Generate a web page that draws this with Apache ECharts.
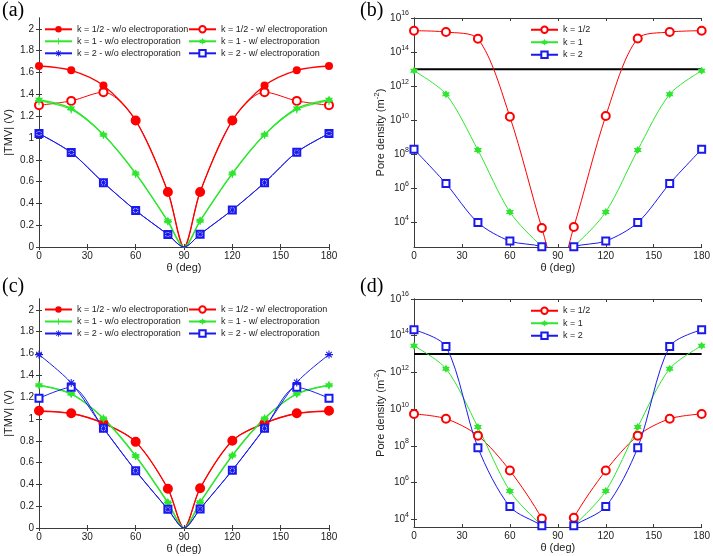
<!DOCTYPE html>
<html><head><meta charset="utf-8">
<script src="https://cdn.jsdelivr.net/npm/echarts@6/dist/echarts.min.js"></script>
<style>html,body{margin:0;padding:0;background:#fff}#c{width:713px;height:556px}</style>
</head><body><div id="c"></div>
<script>
// ---------------- data ----------------
const thetaDeg = [0, 20, 40, 60, 80, 90, 100, 120, 140, 160, 180];
const thetaTicks = [0, 30, 60, 90, 120, 150, 180];
const tmvTicks = [0, 0.2, 0.4, 0.6, 0.8, 1, 1.2, 1.4, 1.6, 1.8, 2];
const poreTicks = [1e4, 1e6, 1e8, 1e10, 1e12, 1e14, 1e16];
const poreThreshold = 1e13;

// (a) |TMV| (V)
const aHalfWo = [1.66, 1.62, 1.48, 1.16, 0.505, 0, 0.505, 1.16, 1.48, 1.62, 1.66];
const aHalfW  = [1.30, 1.34, 1.42, 1.16, 0.505, 0, 0.505, 1.16, 1.42, 1.34, 1.30];
const aOneWo  = [1.34, 1.26, 1.03, 0.67, 0.235, 0, 0.24, 0.67, 1.03, 1.26, 1.34];
const aOneW   = [1.35, 1.27, 1.03, 0.675, 0.236, 0, 0.24, 0.675, 1.03, 1.27, 1.35];
const aTwoWo  = [1.04, 0.866, 0.59, 0.335, 0.114, 0, 0.117, 0.34, 0.59, 0.87, 1.04];
const aTwoW   = [1.04, 0.866, 0.59, 0.335, 0.114, 0, 0.117, 0.34, 0.59, 0.87, 1.04];

// (b) pore density (m^-2)
const bHalf = [1.8e15, 1.5e15, 6e14, 1.6e10, 4.8e3, 10, 5.5e3, 1.8e10, 6.3e14, 1.5e15, 1.8e15];
const bOne  = [8e12, 3.4e11, 1.8e8, 4.2e4, 4e2, 1e2, 4e2, 4.2e4, 1.8e8, 3.4e11, 8e12];
const bTwo  = [2e8, 1.95e6, 1e4, 8.3e2, 3.9e2, 1e2, 3.9e2, 8.3e2, 1e4, 1.95e6, 2e8];

// (c) |TMV| (V)
const cHalfWo = [1.07, 1.05, 0.96, 0.79, 0.36, 0, 0.365, 0.80, 0.96, 1.05, 1.07];
const cHalfW  = [1.075, 1.052, 0.962, 0.79, 0.36, 0, 0.365, 0.80, 0.962, 1.052, 1.075];
const cOneWo  = [1.31, 1.23, 1.005, 0.66, 0.233, 0, 0.235, 0.665, 1.005, 1.23, 1.31];
const cOneW   = [1.31, 1.23, 1.005, 0.66, 0.233, 0, 0.235, 0.665, 1.005, 1.23, 1.31];
const cTwoWo  = [1.59, 1.33, 0.915, 0.525, 0.172, 0, 0.175, 0.53, 0.915, 1.335, 1.59];
const cTwoW   = [1.19, 1.29, 0.915, 0.525, 0.172, 0, 0.175, 0.53, 0.915, 1.29, 1.19];

// (d) pore density (m^-2)
const dHalf = [5.5e9, 3e9, 3.6e8, 4.5e6, 1.1e4, 1e2, 1.2e4, 4.5e6, 3.6e8, 3e9, 5.5e9];
const dOne  = [2.8e13, 1.6e12, 1.05e9, 3.5e5, 4.5e3, 1e3, 4.5e3, 3.5e5, 1.05e9, 1.6e12, 2.8e13];
const dTwo  = [2.1e14, 2.6e13, 8e7, 4.9e4, 4.5e3, 1e3, 4.5e3, 4.9e4, 8e7, 2.6e13, 2.1e14];

const namesTmv = ['k = 1/2 - w/o electroporation', 'k = 1 - w/o electroporation', 'k = 2 - w/o electroporation',
                  'k = 1/2 - w/ electroporation', 'k = 1 - w/ electroporation', 'k = 2 - w/ electroporation'];
const namesPore = ['k = 1/2', 'k = 1', 'k = 2'];
const panelLabels = ['(a)', '(b)', '(c)', '(d)'];

// ---------------- styling ----------------
const FONT = 'Liberation Sans';
const RED = '#ff0000', GREEN = '#2ee62e', BLUE = '#1a1aee';
const AX = '#3a3a3a', TXT = '#222';
const PLUS = 'path://M-1.3,-10L1.3,-10L1.3,10L-1.3,10ZM-10,-1.3L10,-1.3L10,1.3L-10,1.3Z';
const STAR = 'path://M-1.3,-10L1.3,-10L1.3,10L-1.3,10ZM-10,-1.3L10,-1.3L10,1.3L-10,1.3Z' +
  'M-6.08,-8.06L8.06,6.08L6.08,8.06L-8.06,-6.08ZM-8.06,6.08L6.08,-8.06L8.06,-6.08L-6.08,8.06Z';
const HEX = 'path://M0,-10L8.66,5L-8.66,5ZM0,10L-8.66,-5L8.66,-5Z';

const grids = [
  {left: 39, top: 18, width: 290, height: 229},
  {left: 414, top: 18, width: 290, height: 229},
  {left: 39, top: 299, width: 290, height: 229},
  {left: 414, top: 299, width: 290, height: 228}
];
const logMin = [Math.pow(10, 2.57), Math.pow(10, 3.58)];

const xAxes = [], yAxes = [];
grids.forEach((g, i) => {
  const common = {
    gridIndex: i, type: 'value', min: 0, max: 180, interval: 30,
    axisLine: {show: true, lineStyle: {color: AX, width: 1}},
    axisTick: {show: true, inside: true, length: 3, lineStyle: {color: AX}},
    splitLine: {show: false}
  };
  xAxes.push(Object.assign({}, common, {
    position: 'bottom',
    axisLabel: {show: true, color: TXT, fontFamily: FONT, fontSize: 10, margin: 4},
    name: 'θ (deg)', nameLocation: 'middle', nameGap: 15,
    nameTextStyle: {color: TXT, fontFamily: FONT, fontSize: 11}
  }));
  xAxes.push(Object.assign({}, common, {position: 'top', axisLabel: {show: false}}));

  const isLog = (i % 2 === 1);
  let yc;
  if (!isLog) {
    yc = {gridIndex: i, type: 'value', min: 0, max: 2.1, interval: 0.2};
  } else {
    yc = {gridIndex: i, type: 'log', logBase: 10, min: logMin[i === 1 ? 0 : 1], max: 1e16};
  }
  const tickCfg = {show: true, inside: true, length: 3, lineStyle: {color: AX},
                   customValues: isLog ? poreTicks : tmvTicks};
  const left = Object.assign({}, yc, {
    position: 'left',
    axisLine: {show: true, lineStyle: {color: AX, width: 1}},
    axisTick: tickCfg,
    splitLine: {show: false},
    nameLocation: 'middle',
    nameTextStyle: {color: TXT, fontFamily: FONT, fontSize: 11,
      rich: {s: {fontFamily: FONT, fontSize: 8, color: TXT, padding: [0, 0, 8, 0]}}}
  });
  if (!isLog) {
    left.name = '|TMV| (V)';
    left.nameGap = 25;
    left.axisLabel = {color: TXT, fontFamily: FONT, fontSize: 10, margin: 5, customValues: tmvTicks};
  } else {
    left.name = 'Pore density (m{s|-2})';
    left.nameGap = 24;
    left.axisLabel = {
      color: TXT, fontFamily: FONT, fontSize: 10, margin: 5, customValues: poreTicks,
      formatter: v => '{b|10}{s|' + Math.round(Math.log10(v)) + '}',
      rich: {b: {fontFamily: FONT, fontSize: 10, color: TXT},
             s: {fontFamily: FONT, fontSize: 7, color: TXT, padding: [0, 0, 9, 0]}}
    };
  }
  yAxes.push(left);
  const right = Object.assign({}, yc, {
    position: 'right',
    axisLine: {show: true, lineStyle: {color: AX, width: 1}},
    axisTick: tickCfg,
    axisLabel: {show: false},
    splitLine: {show: false}
  });
  yAxes.push(right);
});

function mk(vals) {
  return thetaDeg.map((t, k) => t === 90 ? {value: [t, vals[k]], symbol: 'none'} : [t, vals[k]]);
}
function ser(name, vals, gi, color, symbol, size, lw, empty) {
  return {
    type: 'line', name: name, data: mk(vals),
    xAxisIndex: gi * 2, yAxisIndex: gi * 2,
    smooth: 0.3, clip: true,
    symbol: symbol, symbolSize: size, showAllSymbol: true,
    lineStyle: {color: color, width: lw},
    itemStyle: {color: color, borderColor: color, borderWidth: empty ? 1.2 : 0},
    emphasis: {disabled: true}, animation: false, z: 3
  };
}
function thr(gi) {
  return {
    type: 'line', name: 'threshold', data: [[0, poreThreshold], [180, poreThreshold]],
    xAxisIndex: gi * 2, yAxisIndex: gi * 2, symbol: 'none',
    lineStyle: {color: '#000', width: 2}, animation: false, z: 2, silent: true
  };
}

const series = [
  // (a)
  ser(namesTmv[3], aHalfW, 0, RED, 'emptyCircle', 8, 1, true),
  ser(namesTmv[0], aHalfWo, 0, RED, 'circle', 8, 1.3),
  ser(namesTmv[1], aOneWo, 0, GREEN, PLUS, 8, 1),
  ser(namesTmv[4], aOneW, 0, GREEN, HEX, 8, 1.5),
  ser(namesTmv[5], aTwoW, 0, BLUE, 'emptyRect', 7, 1, true),
  ser(namesTmv[2], aTwoWo, 0, BLUE, STAR, 8, 1),
  // (b)
  thr(1),
  ser(namesPore[0], bHalf, 1, RED, 'emptyCircle', 8, 1, true),
  ser(namesPore[1], bOne, 1, GREEN, HEX, 8, 1),
  ser(namesPore[2], bTwo, 1, BLUE, 'emptyRect', 7, 1, true),
  // (c)
  ser(namesTmv[3], cHalfW, 2, RED, 'emptyCircle', 8, 1, true),
  ser(namesTmv[0], cHalfWo, 2, RED, 'circle', 8, 1.3),
  ser(namesTmv[1], cOneWo, 2, GREEN, PLUS, 8, 1),
  ser(namesTmv[4], cOneW, 2, GREEN, HEX, 8, 1.5),
  ser(namesTmv[5], cTwoW, 2, BLUE, 'emptyRect', 7, 1, true),
  ser(namesTmv[2], cTwoWo, 2, BLUE, STAR, 8, 1),
  // (d)
  thr(3),
  ser(namesPore[0], dHalf, 3, RED, 'emptyCircle', 8, 1, true),
  ser(namesPore[1], dOne, 3, GREEN, HEX, 8, 1),
  ser(namesPore[2], dTwo, 3, BLUE, 'emptyRect', 7, 1, true)
];

function leg(data, left, top, lh) {
  return {
    data: data, left: left, top: top, orient: 'vertical',
    itemWidth: 27, itemHeight: 8, itemGap: 0, padding: 0,
    selectedMode: false,
    textStyle: {color: TXT, fontFamily: FONT, fontSize: 9, lineHeight: lh}
  };
}
const legends = [
  leg(namesTmv.slice(0, 3), 44, 23.3, 12),
  leg(namesTmv.slice(3, 6), 188, 23.3, 12),
  leg(namesPore, 530, 23.5, 12.5),
  leg(namesTmv.slice(0, 3), 44, 303.5, 12),
  leg(namesTmv.slice(3, 6), 188, 303.5, 12),
  leg(namesPore, 530, 304.5, 12.5)
];

const titles = panelLabels.map((t, i) => ({
  text: t, left: i % 2 === 0 ? 2 : 360, top: i < 2 ? 1 : 277, padding: 0,
  textStyle: {fontFamily: 'Liberation Serif', fontSize: 20, fontWeight: 'normal', color: '#000'}
}));

const chart = echarts.init(document.getElementById('c'), null, {renderer: 'canvas'});
chart.setOption({
  animation: false,
  backgroundColor: '#fff',
  title: titles,
  legend: legends,
  grid: grids,
  xAxis: xAxes,
  yAxis: yAxes,
  series: series
});
</script>
</body></html>
